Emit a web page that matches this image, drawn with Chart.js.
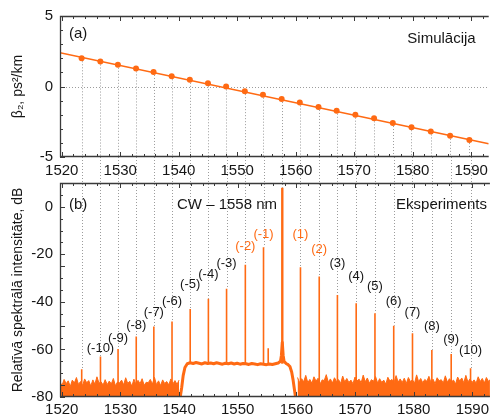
<!DOCTYPE html>
<html>
<head>
<meta charset="utf-8">
<script src="https://cdn.jsdelivr.net/npm/chart.js@4.4.1/dist/chart.umd.min.js"></script>
<style>
  html, body { margin: 0; padding: 0; background: #fff; }
  #wrap { position: relative; width: 493px; height: 420px; }
  canvas { position: absolute; left: 0; top: 0; }
</style>
</head>
<body>
<div id="wrap">
  <canvas id="spectrum" width="493" height="420"></canvas>
  <canvas id="beta" width="493" height="420"></canvas>
</div>
<script>
// sideband / pump wavelengths (nm), shared by both panels
const lines = [1523.4, 1526.6, 1529.6, 1532.7, 1535.7, 1538.8, 1541.9, 1545.0, 1548.1, 1551.3, 1554.4,
               1557.6, 1560.7, 1563.9, 1567.0, 1570.2, 1573.4, 1576.6, 1579.8, 1583.1, 1586.4, 1589.7];
const pumpIndex = 11;

// (a) simulated beta2 at those wavelengths, ps^2/km
const beta2 = [2.0, 1.77, 1.54, 1.28, 1.03, 0.72, 0.47, 0.23, 0.0, -0.33, -0.58,
               -0.89, -1.14, -1.45, -1.72, -2.0, -2.26, -2.59, -2.89, -3.19, -3.5, -3.8];
const fitWl = [1519.7, 1593.0];
const fitBeta = [2.40, -4.06];

// (b) measured peak levels, dB
const peakDb = [-68.3, -63.0, -59.8, -54.6, -50.4, -48.3, -43.0, -38.7, -34.5, -24.4, -17.0,
                8.0, -25.4, -29.3, -37.1, -40.6, -44.8, -50.0, -53.2, -60.2, -61.9, -67.9];
const orderLabels = ['', '(-10)', '(-9)', '(-8)', '(-7)', '(-6)', '(-5)', '(-4)', '(-3)', '(-2)', '(-1)',
                     '', '(1)', '(2)', '(3)', '(4)', '(5)', '(6)', '(7)', '(8)', '(9)', '(10)'];
const labelDb = [null, -59.4, -55.2, -50.1, -44.6, -39.6, -32.8, -28.6, -24.0, -16.8, -11.8,
                 null, -11.8, -18.1, -24.0, -29.1, -33.3, -39.6, -44.6, -50.5, -55.6, -60.6];
const spurWl = [1555.2];
const spurDb = [-59.5];

// noise floor outside the amplified band (0.35 nm grid)
const floorStep = 0.35;
const floorLeftStart = 1519.7;
const floorLeft = [-73.8,-75.1,-72.6,-74.4,-73.2,-75.6,-72.9,-74.1,-71.8,-74.7,-73.5,-75.2,-72.4,-74.0,-73.1,
  -75.4,-72.8,-74.6,-71.5,-74.2,-73.6,-75.0,-72.7,-74.8,-73.3,-74.5,-72.2,-75.3,-73.7,-74.1,-72.9,-74.9,
  -71.9,-74.3,-73.4,-75.5,-72.5,-74.7,-73.0,-74.4,-72.3,-75.1,-73.8,-74.0,-72.6,-74.6,-71.7,-74.8,-73.2,
  -75.2,-72.8,-74.3,-73.5,-74.9,-72.4,-74.5,-73.1,-74.7,-72.9];
const floorRightStart = 1560.2;
const floorRight = [-71.8,-74.0,-72.3,-73.6,-70.9,-73.9,-72.6,-74.2,-71.5,-73.3,-72.1,-74.5,-72.8,-73.1,-70.6,
  -73.8,-72.4,-74.1,-71.9,-73.5,-72.7,-74.3,-71.2,-73.7,-72.2,-73.9,-72.9,-74.4,-71.6,-73.2,-72.5,-74.0,
  -70.8,-73.6,-72.0,-74.2,-72.7,-73.4,-71.4,-74.1,-72.3,-73.8,-72.9,-74.6,-71.7,-73.3,-72.6,-74.0,-71.0,
  -73.7,-72.4,-73.9,-72.1,-74.3,-71.8,-73.5,-72.8,-74.2,-70.7,-73.6,-72.2,-74.0,-72.6,-73.4,-71.3,-73.9,
  -72.5,-74.4,-71.9,-73.2,-72.7,-74.1,-71.1,-73.8,-72.3,-73.6,-72.9,-74.5,-71.6,-73.3,-72.0,-74.0,-70.9,
  -73.7,-72.4,-73.9,-72.8,-74.2,-71.5,-73.5,-72.2,-74.1,-71.8,-73.4,-72.6];

// amplified band (plateau) with the pump skirt
const plateauWl = [1540.2,1540.45,1540.7,1541.0,1541.4,1541.9,1542.4,1542.9,1543.4,1543.9,1544.4,1544.9,
  1545.4,1545.9,1546.4,1546.9,1547.4,1547.9,1548.4,1548.9,1549.4,1549.9,1550.4,1550.9,1551.4,1551.9,
  1552.4,1552.9,1553.4,1553.9,1554.4,1554.9,1555.4,1555.9,1556.4,1556.9,1557.3,1557.45,1557.6,1557.75,
  1557.9,1558.3,1558.6,1558.9,1559.2,1559.45,1559.65,1559.85];
const plateauDb = [-80,-76,-71,-67.6,-66.0,-65.6,-65.9,-65.5,-65.8,-66.1,-65.6,-65.9,-65.7,-66.0,-65.6,
  -65.9,-66.2,-65.8,-66.0,-65.7,-66.1,-65.8,-66.2,-65.9,-66.0,-66.3,-65.9,-66.1,-66.4,-66.0,-66.2,-66.4,
  -66.1,-66.3,-66.0,-65.7,-65.0,-62.5,-57,-62.5,-65.0,-66.0,-66.4,-67.2,-69.5,-73,-76.5,-80];
const plateauLevel = -66;

const ORANGE = '#ff6a13';
const INK = '#161616';
const FONT = '"Liberation Sans", Arial, Helvetica, sans-serif';
const X_MIN = 1519.7, X_MAX = 1593.0;

function xy(xs, ys) {
    return xs.map((x, i) => ({ x: x, y: ys[i] }));
}

function gridSeries(start, values) {
    return values.map((v, i) => ({ x: start + i * floorStep, y: v }));
}

function spikes(wls, dbs) {
    const out = [];
    wls.forEach((wl, i) => {
        const base = (wl > plateauWl[0] && wl < plateauWl[plateauWl.length - 1]) ? plateauLevel : -80;
        out.push({ x: wl, y: base }, { x: wl, y: dbs[i] }, { x: wl, y: null });
    });
    return out;
}

function xScale(extra) {
    return Object.assign({
        type: 'linear', min: X_MIN, max: X_MAX,
        grid: { display: false, drawTicks: false },
        border: { display: false },
        ticks: { stepSize: 10, includeBounds: false, color: INK, font: { family: FONT, size: 15 }, padding: 5,
                 maxRotation: 0, callback: v => String(v) }
    }, extra);
}

function yScale(extra) {
    return Object.assign({
        type: 'linear',
        grid: { display: false, drawTicks: false },
        border: { display: false },
        afterFit: s => { s.width = 60; }
    }, extra);
}

// inward ticks + frame (left, top, bottom)
function drawFrame(chart, yMinor) {
    const { ctx, chartArea: a, scales: { x, y } } = chart;
    ctx.save();
    ctx.strokeStyle = '#3a3a3a';
    ctx.lineWidth = 1.3;
    ctx.beginPath();
    ctx.moveTo(a.right, a.top + 0.5);
    ctx.lineTo(a.left + 0.5, a.top + 0.5);
    ctx.lineTo(a.left + 0.5, a.bottom - 0.5);
    ctx.lineTo(a.right, a.bottom - 0.5);
    ctx.stroke();
    ctx.lineWidth = 1;
    ctx.beginPath();
    for (let v = 1520; v <= 1592; v += 2) {
        const px = Math.round(x.getPixelForValue(v)) + 0.5;
        const len = v % 10 === 0 ? 5 : 3;
        ctx.moveTo(px, a.top); ctx.lineTo(px, a.top + len);
        ctx.moveTo(px, a.bottom); ctx.lineTo(px, a.bottom - len);
    }
    for (let v = y.min; v <= y.max + 1e-6; v += yMinor) {
        const py = Math.round(y.getPixelForValue(v)) + 0.5;
        const len = Math.abs(v % (yMinor * 5)) < 1e-6 || Math.abs(v % 20) < 1e-6 ? 5 : 3;
        ctx.moveTo(a.left, py); ctx.lineTo(a.left + len, py);
    }
    ctx.stroke();
    ctx.restore();
}

function dotted(ctx) {
    ctx.strokeStyle = '#9c9c9c';
    ctx.lineWidth = 1;
    ctx.setLineDash([1, 2]);
}

function text(ctx, str, x, y, align, color, size) {
    ctx.fillStyle = color;
    ctx.font = size + 'px ' + FONT;
    ctx.textAlign = align;
    ctx.textBaseline = 'middle';
    ctx.fillText(str, x, y);
}

// ---------- (a) beta2 ----------
const betaChart = new Chart(document.getElementById('beta'), {
    type: 'line',
    data: {
        datasets: [
            { data: xy(lines, beta2), showLine: false, pointRadius: 3, pointBackgroundColor: ORANGE,
              pointBorderWidth: 0, order: 0 },
            { data: xy(fitWl, fitBeta), borderColor: ORANGE, borderWidth: 1.6, pointRadius: 0, order: 1 }
        ]
    },
    options: {
        responsive: false, animation: false, events: [],
        layout: { padding: { top: 14, bottom: 233, left: 0, right: 0 } },
        plugins: { legend: { display: false }, tooltip: { enabled: false } },
        scales: {
            x: xScale({ afterFit: s => { s.height = 30; } }),
            y: yScale({
                min: -5, max: 5,
                ticks: { stepSize: 5, color: INK, font: { family: FONT, size: 15 }, padding: 7 },
                title: { display: true, text: 'β₂, ps²/km', color: INK, font: { family: FONT, size: 14 },
                         padding: { top: 10, bottom: 0 } }
            })
        }
    },
    plugins: [{
        id: 'betaDecor',
        beforeDatasetsDraw(chart) {
            const { ctx, chartArea: a, scales: { x, y } } = chart;
            ctx.save();
            dotted(ctx);
            ctx.beginPath();
            const y0 = Math.round(y.getPixelForValue(0)) + 0.5;
            ctx.moveTo(a.left, y0); ctx.lineTo(a.right, y0);
            lines.forEach((wl, i) => {
                const px = Math.round(x.getPixelForValue(wl)) + 0.5;
                ctx.moveTo(px, y.getPixelForValue(beta2[i]));
                ctx.lineTo(px, a.bottom);
            });
            ctx.stroke();
            ctx.restore();
        },
        afterDatasetsDraw(chart) {
            const { ctx, chartArea: a } = chart;
            drawFrame(chart, 1);
            ctx.save();
            text(ctx, '(a)', a.left + 9, a.top + 18, 'left', INK, 15);
            text(ctx, 'Simulācija', a.right - 13, a.top + 23, 'right', INK, 15);
            ctx.restore();
        }
    }]
});

// ---------- (b) spectrum ----------
const lineSpikes = spikes(lines.filter((_, i) => i !== pumpIndex), peakDb.filter((_, i) => i !== pumpIndex))
    .concat(spikes(spurWl, spurDb));

new Chart(document.getElementById('spectrum'), {
    type: 'line',
    data: {
        datasets: [
            { data: gridSeries(floorLeftStart, floorLeft), borderColor: ORANGE, backgroundColor: ORANGE,
              borderWidth: 1, pointRadius: 0, fill: 'start' },
            { data: gridSeries(floorRightStart, floorRight), borderColor: ORANGE, backgroundColor: ORANGE,
              borderWidth: 1, pointRadius: 0, fill: 'start' },
            { data: xy(plateauWl, plateauDb), borderColor: ORANGE, borderWidth: 3, pointRadius: 0,
              fill: false, borderJoinStyle: 'round' },
            { data: lineSpikes, borderColor: ORANGE, borderWidth: 1.6, pointRadius: 0, fill: false, spanGaps: false },
            { data: spikes([lines[pumpIndex]], [peakDb[pumpIndex]]), borderColor: ORANGE, borderWidth: 2.4,
              pointRadius: 0, fill: false, spanGaps: false }
        ]
    },
    options: {
        responsive: false, animation: false, events: [],
        layout: { padding: { top: 183, bottom: 0, left: 0, right: 0 } },
        plugins: { legend: { display: false }, tooltip: { enabled: false } },
        scales: {
            x: xScale({ afterFit: s => { s.height = 23; }, ticks: Object.assign({}, xScale().ticks, { padding: 4 }) }),
            y: yScale({
                min: -80, max: 10,
                ticks: { stepSize: 20, includeBounds: false, color: INK, font: { family: FONT, size: 15 }, padding: 7 },
                title: { display: true, text: 'Relatīvā spektrālā intensitāte, dB', color: INK,
                         font: { family: FONT, size: 14 }, padding: { top: 10, bottom: 0 } }
            })
        }
    },
    plugins: [{
        id: 'spectrumDecor',
        beforeDatasetsDraw(chart) {
            const { ctx, scales: { x, y } } = chart;
            const from = betaChart.chartArea.bottom;
            ctx.save();
            dotted(ctx);
            ctx.beginPath();
            lines.forEach((wl, i) => {
                const px = Math.round(x.getPixelForValue(wl)) + 0.5;
                ctx.moveTo(px, from);
                ctx.lineTo(px, y.getPixelForValue(peakDb[i]));
            });
            ctx.stroke();
            ctx.restore();
        },
        afterDatasetsDraw(chart) {
            const { ctx, chartArea: a, scales: { x, y } } = chart;
            drawFrame(chart, 5);
            ctx.save();
            orderLabels.forEach((lab, i) => {
                if (!lab) return;
                const hot = Math.abs(i - pumpIndex) <= 2;
                text(ctx, lab, x.getPixelForValue(lines[i]), y.getPixelForValue(labelDb[i]), 'center',
                     hot ? ORANGE : INK, 13);
            });
            text(ctx, '(b)', a.left + 9, a.top + 22, 'left', INK, 15);
            text(ctx, 'CW – 1558 nm', a.left + 117, a.top + 22, 'left', INK, 15);
            text(ctx, 'Eksperiments', a.right - 3, a.top + 22, 'right', INK, 15);
            ctx.restore();
        }
    }]
});
</script>
</body>
</html>
